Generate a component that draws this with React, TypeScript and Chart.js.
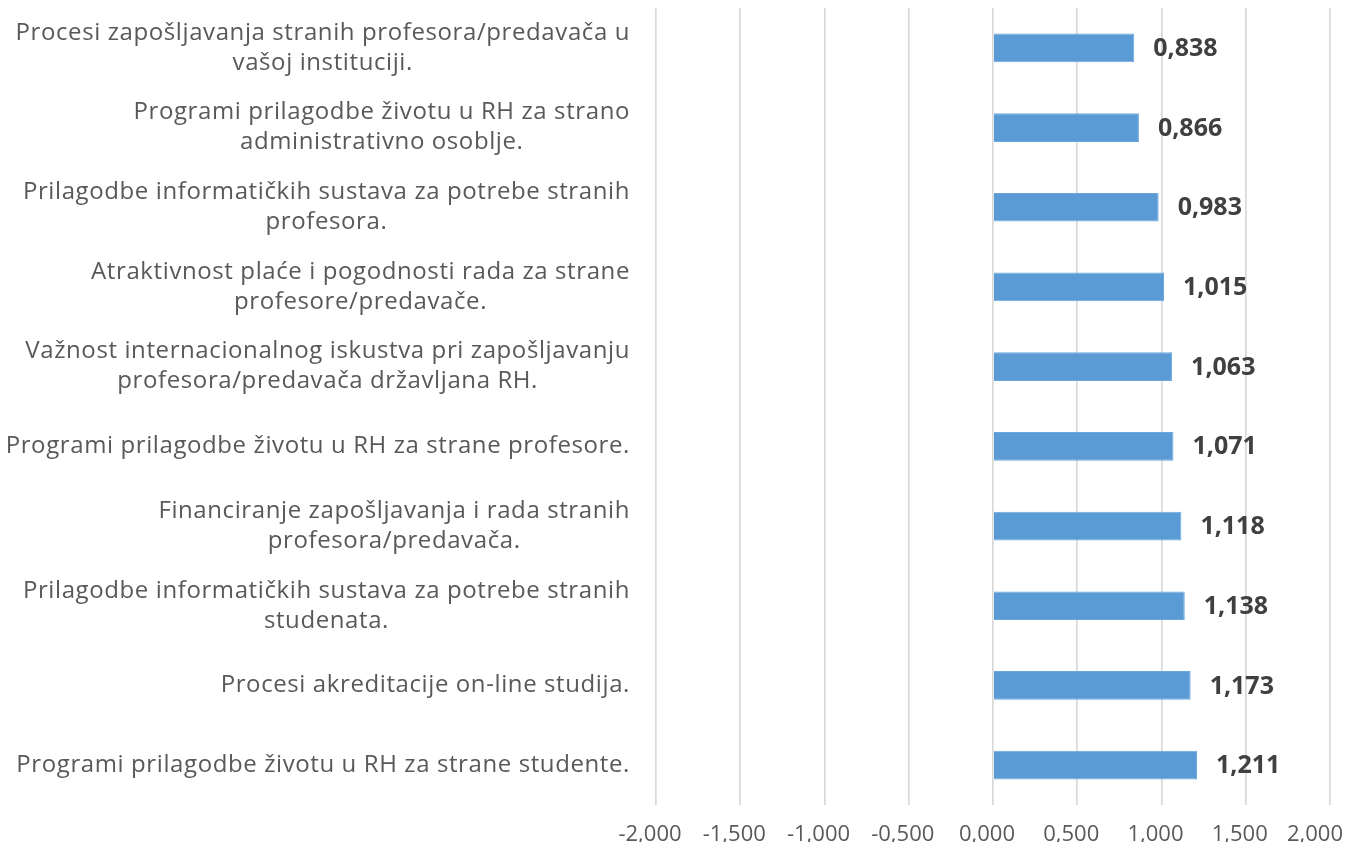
import React, { useEffect, useRef } from "react";
import { Chart, registerables } from "chart.js";

Chart.register(...registerables);

const categories: string[][] = [
  ["Procesi zapošljavanja stranih profesora/predavača u", "vašoj instituciji."],
  ["Programi prilagodbe životu u RH za strano", "administrativno osoblje."],
  ["Prilagodbe informatičkih sustava za potrebe stranih", "profesora."],
  ["Atraktivnost plaće i pogodnosti rada za strane", "profesore/predavače."],
  ["Važnost internacionalnog iskustva pri zapošljavanju", "profesora/predavača državljana RH."],
  ["Programi prilagodbe životu u RH za strane profesore."],
  ["Financiranje zapošljavanja i rada stranih", "profesora/predavača."],
  ["Prilagodbe informatičkih sustava za potrebe stranih", "studenata."],
  ["Procesi akreditacije on-line studija."],
  ["Programi prilagodbe životu u RH za strane studente."],
];

const values: number[] = [0.838, 0.866, 0.983, 1.015, 1.063, 1.071, 1.118, 1.138, 1.173, 1.211];

const axisMin = -2;
const axisMax = 2;
const axisStep = 0.5;

const FONT = "'Open Sans', 'Noto Sans', sans-serif";
const fmt = (v: number) => (Math.abs(v) < 1e-9 ? 0 : v).toFixed(3).replace(".", ",");

const labelPlugin = {
  id: "customLabels",
  afterDraw(chart: any) {
    const ctx = chart.ctx;
    const yScale = chart.scales.y;
    const xScale = chart.scales.x;
    const area = chart.chartArea;
    ctx.save();
    // category labels: block right-aligned, lines centered within block
    ctx.font = `24px ${FONT}`;
    try {
      (ctx as any).letterSpacing = "0.6px";
    } catch (e) {}
    ctx.fillStyle = "#595959";
    ctx.textAlign = "center";
    ctx.textBaseline = "middle";
    const lineH = 30;
    const right = area.left - 26;
    categories.forEach((lines, i) => {
      const y = yScale.getPixelForTick(i);
      const w = Math.max(...lines.map((l) => ctx.measureText(l).width));
      const cx = right - w / 2;
      const startY = y - ((lines.length - 1) * lineH) / 2;
      lines.forEach((l, j) => ctx.fillText(l, cx, startY + j * lineH));
    });
    try {
      (ctx as any).letterSpacing = "0px";
    } catch (e) {}
    // value-axis tick labels
    ctx.font = `22px ${FONT}`;
    ctx.fillStyle = "#595959";
    ctx.textAlign = "center";
    xScale.ticks.forEach((t: any) => {
      const txt = fmt(t.value);
      const w = ctx.measureText(txt).width;
      let cx = xScale.getPixelForValue(t.value) - 6;
      cx = Math.min(cx, chart.width - 1 - w / 2);
      ctx.fillText(txt, cx, area.bottom + 30);
    });
    // data labels
    ctx.font = `bold 25px ${FONT}`;
    ctx.fillStyle = "#404040";
    ctx.textAlign = "left";
    const meta = chart.getDatasetMeta(0);
    meta.data.forEach((bar: any, i: number) => {
      ctx.fillText(fmt(values[i]), bar.x + 19, bar.y + 1);
    });
    ctx.restore();
  },
};

export default function App() {
  const ref = useRef<HTMLCanvasElement | null>(null);
  useEffect(() => {
    if (!ref.current) return;
    const chart = new Chart(ref.current, {
      type: "bar",
      data: {
        labels: categories.map((c) => c.join(" ")),
        datasets: [
          {
            data: values,
            backgroundColor: "#5B9BD5",
            borderColor: "#6AA7DC",
            borderWidth: 1,
            barPercentage: 0.36,
            categoryPercentage: 1,
          },
        ],
      },
      options: {
        indexAxis: "y",
        animation: false,
        responsive: true,
        maintainAspectRatio: false,
        layout: { padding: { top: 0, right: 14, left: 0, bottom: 0 } },
        plugins: {
          legend: { display: false },
          tooltip: { enabled: false },
        },
        scales: {
          x: {
            min: axisMin,
            max: axisMax,
            ticks: {
              stepSize: axisStep,
              display: false,
            },
            grid: { color: "#d9d9d9", lineWidth: 1.7, drawTicks: false },
            border: { display: false },
            afterFit: (s: any) => {
              s.height = 37;
              s.paddingRight = 0;
              s.paddingLeft = 0;
            },
          },
          y: {
            ticks: { display: false },
            grid: { display: false },
            border: { display: false },
            afterFit: (s: any) => {
              s.width = 648;
            },
          },
        },
      },
      plugins: [labelPlugin],
    });
    return () => chart.destroy();
  }, []);
  return (
    <div style={{ width: 1336, height: 834, position: "relative" }}>
      <canvas ref={ref} />
    </div>
  );
}
